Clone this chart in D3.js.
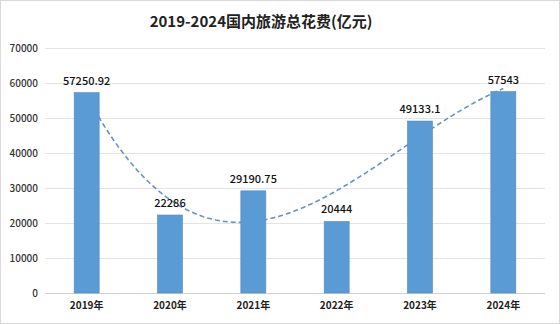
<!DOCTYPE html>
<html>
<head>
<meta charset="utf-8">
<script src="https://cdn.jsdelivr.net/npm/d3@7"></script>
<style>
  body { margin: 0; background: #fff; }
  svg { display: block; }
</style>
</head>
<body>
<div id="chart"></div>
<script>
var years = ["2019年", "2020年", "2021年", "2022年", "2023年", "2024年"];
var spend = [57250.92, 22286, 29190.75, 20444, 49133.1, 57543];
var spendLabels = ["57250.92", "22286", "29190.75", "20444", "49133.1", "57543"];
var yTicks = [0, 10000, 20000, 30000, 40000, 50000, 60000, 70000];

var W = 560, H = 324;
var margin = {top: 48, right: 15, bottom: 31, left: 45};
var width = W - margin.left - margin.right;
var height = H - margin.top - margin.bottom;
var font = "'Noto Sans CJK SC', 'Noto Sans', sans-serif";

var svg = d3.select("#chart").append("svg")
  .attr("width", W)
  .attr("height", H);

// outer frame
svg.append("rect")
  .attr("x", 0.5).attr("y", 0.5)
  .attr("width", W - 1).attr("height", H - 1)
  .attr("fill", "#fff")
  .attr("stroke", "#d9d9d9");

svg.append("text")
  .attr("x", 261)
  .attr("y", 27)
  .attr("text-anchor", "middle")
  .style("font-family", font)
  .style("font-weight", "bold")
  .style("font-size", "15px")
  .style("fill", "#222")
  .text("2019-2024国内旅游总花费(亿元)");

var g = svg.append("g")
  .attr("transform", "translate(" + margin.left + "," + margin.top + ")");

var x = d3.scaleBand()
  .domain(years)
  .range([0, width])
  .paddingInner(0.7)
  .paddingOuter(0.35);

var y = d3.scaleLinear()
  .domain([0, 70000])
  .range([height, 0]);

// gridlines
g.selectAll(".grid")
  .data(yTicks)
  .enter().append("line")
  .attr("class", "grid")
  .attr("x1", 0)
  .attr("x2", width)
  .attr("y1", function(d) { return Math.round(y(d)) + 0.5; })
  .attr("y2", function(d) { return Math.round(y(d)) + 0.5; })
  .attr("stroke", function(d) { return d === 0 ? "#d0d0d0" : "#e3e3e3"; })
  .attr("stroke-width", 1);

var yAxis = d3.axisLeft(y).tickValues(yTicks).tickFormat(d3.format("d")).tickSize(0).tickPadding(7);
g.append("g")
  .call(yAxis)
  .call(function(a) { a.select(".domain").remove(); })
  .selectAll("text")
  .style("font-family", font)
  .style("font-size", "10px")
  .style("font-weight", "500")
  .style("fill", "#333");

// cubic polynomial trendline fitted to the series (least squares)
function polyFit(xs, ys, order) {
  var n = order + 1;
  var A = [], b = [];
  for (var i = 0; i < n; i++) {
    A.push([]);
    for (var j = 0; j < n; j++) A[i].push(d3.sum(xs, function(v) { return Math.pow(v, i + j); }));
    b.push(d3.sum(xs, function(v, k) { return ys[k] * Math.pow(v, i); }));
  }
  for (var c = 0; c < n; c++) {
    for (var r = c + 1; r < n; r++) {
      var f = A[r][c] / A[c][c];
      for (var k = c; k < n; k++) A[r][k] -= f * A[c][k];
      b[r] -= f * b[c];
    }
  }
  var coef = new Array(n).fill(0);
  for (var r2 = n - 1; r2 >= 0; r2--) {
    var s = b[r2];
    for (var k2 = r2 + 1; k2 < n; k2++) s -= A[r2][k2] * coef[k2];
    coef[r2] = s / A[r2][r2];
  }
  return function(t) { return d3.sum(coef, function(cf, p) { return cf * Math.pow(t, p); }); };
}

var idx = years.map(function(d, i) { return i + 1; });
var trend = polyFit(idx, spend, 3);
var step = x.step();
var x0 = x(years[0]) + x.bandwidth() / 2;
var trendPts = d3.range(1, 6.001, 0.05).map(function(t) { return [x0 + (t - 1) * step, y(trend(t))]; });

g.append("path")
  .datum(trendPts)
  .attr("d", d3.line().curve(d3.curveLinear))
  .attr("fill", "none")
  .attr("stroke", "#6b93c2")
  .attr("stroke-width", 1.6)
  .attr("stroke-dasharray", "5,3");

g.selectAll(".bar")
  .data(spend)
  .enter().append("rect")
  .attr("class", "bar")
  .attr("x", function(d, i) { return x(years[i]); })
  .attr("width", x.bandwidth())
  .attr("y", function(d) { return y(d); })
  .attr("height", function(d) { return height - y(d); })
  .attr("fill", "#5b9bd5")
  .attr("stroke", "#4f8ac2")
  .attr("stroke-width", 0.6);

g.selectAll(".val")
  .data(spend)
  .enter().append("text")
  .attr("class", "val")
  .attr("x", function(d, i) { return x(years[i]) + x.bandwidth() / 2; })
  .attr("y", function(d) { return y(d) - 8; })
  .attr("text-anchor", "middle")
  .style("font-family", font)
  .style("font-size", "11px")
  .style("font-weight", "500")
  .style("fill", "#111")
  .text(function(d, i) { return spendLabels[i]; });

var xAxis = d3.axisBottom(x).tickSize(0).tickPadding(9);
g.append("g")
  .attr("transform", "translate(0," + height + ")")
  .call(xAxis)
  .call(function(a) { a.select(".domain").remove(); })
  .selectAll("text")
  .style("font-family", font)
  .style("font-size", "10px")
  .style("font-weight", "bold")
  .style("fill", "#222");
</script>
</body>
</html>
